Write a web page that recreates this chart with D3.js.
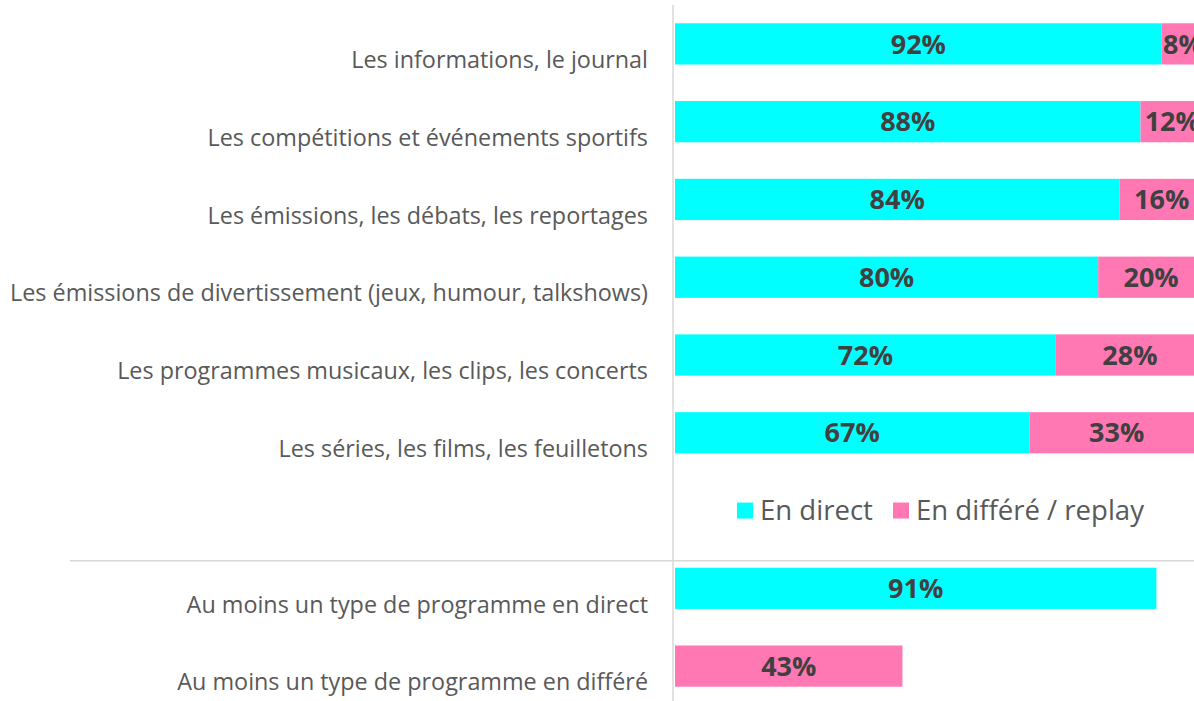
<html>
<head>
  <meta charset="utf-8">
  <script src="https://d3js.org/d3.v7.min.js"></script>
  <style>
    body { margin: 0; padding: 0; background: white; overflow: hidden; }
    svg { display: block; }
    text { font-family: "Open Sans", sans-serif; }
  </style>
</head>
<body>
  <svg width="1194" height="701"></svg>
  <script>
    const categories = [
      "Les informations, le journal",
      "Les compétitions et événements sportifs",
      "Les émissions, les débats, les reportages",
      "Les émissions de divertissement (jeux, humour, talkshows)",
      "Les programmes musicaux, les clips, les concerts",
      "Les séries, les films, les feuilletons"
    ];
    const enDirect = [92, 88, 84, 80, 72, 67];
    const enDiffere = [8, 12, 16, 20, 28, 33];

    const summaryCategories = [
      "Au moins un type de programme en direct",
      "Au moins un type de programme en différé"
    ];
    const summaryValues = [91, 43];
    const summarySeries = ["direct", "differe"];

    const seriesNames = ["En direct", "En différé / replay"];
    const colors = { direct: "#00ffff", differe: "#ff78b4" };

    const svg = d3.select("svg");
    const width = 1194, height = 701;

    const slots = categories.concat(["__legend"], summaryCategories);

    const y = d3.scaleBand()
      .domain(slots)
      .range([5, 705])
      .paddingInner(0.47)
      .paddingOuter(0.235);

    const x = d3.scaleLinear()
      .domain([0, 100])
      .range([675, 1204]);

    // axis line
    svg.append("line")
      .attr("x1", 673).attr("x2", 673)
      .attr("y1", 5).attr("y2", height)
      .attr("stroke", "#d9d9d9").attr("stroke-width", 1.5);

    // separator
    const sepY = y(summaryCategories[0]) - 7;
    svg.append("line")
      .attr("x1", 70).attr("x2", width)
      .attr("y1", sepY).attr("y2", sepY)
      .attr("stroke", "#d9d9d9").attr("stroke-width", 1.5);

    const rows = categories.map((c, i) => ({ cat: c, direct: enDirect[i], differe: enDiffere[i] }));

    const segs = [];
    rows.forEach(r => {
      segs.push({ cat: r.cat, key: "direct", x0: 0, x1: r.direct, v: r.direct });
      segs.push({ cat: r.cat, key: "differe", x0: r.direct, x1: r.direct + r.differe, v: r.differe });
    });
    summaryCategories.forEach((c, i) => {
      segs.push({ cat: c, key: summarySeries[i], x0: 0, x1: summaryValues[i], v: summaryValues[i] });
    });

    svg.selectAll("rect.bar")
      .data(segs)
      .enter().append("rect")
      .attr("class", "bar")
      .attr("x", d => x(d.x0))
      .attr("y", d => y(d.cat))
      .attr("width", d => x(d.x1) - x(d.x0))
      .attr("height", y.bandwidth())
      .attr("fill", d => colors[d.key]);

    svg.selectAll("text.val")
      .data(segs)
      .enter().append("text")
      .attr("class", "val")
      .attr("x", d => (x(d.x0) + x(d.x1)) / 2)
      .attr("y", d => y(d.cat) + y.bandwidth() / 2)
      .attr("dy", "0.36em")
      .attr("text-anchor", "middle")
      .attr("font-weight", "bold")
      .attr("font-size", 27)
      .attr("fill", "#404040")
      .text(d => d.v + "%");

    // category labels
    const labels = svg.selectAll("text.cat")
      .data(categories.concat(summaryCategories))
      .enter().append("text")
      .attr("class", "cat")
      .attr("x", 648)
      .attr("y", d => y(d) + y.bandwidth() / 2 + 16)
      .attr("dy", "0.35em")
      .attr("text-anchor", "end")
      .attr("font-size", 20)
      .attr("fill", "#595959")
      .text(d => d);

    // fit font so longest label spans like the reference
    const longest = d3.max(labels.nodes(), n => n.getComputedTextLength());
    const fs = 20 * 638 / longest;
    labels.attr("font-size", fs);

    // legend
    const ly = y("__legend") + y.bandwidth() / 2;
    const legend = [
      { name: seriesNames[0], key: "direct", x: 737 },
      { name: seriesNames[1], key: "differe", x: 893 }
    ];
    const lg = svg.selectAll("g.leg")
      .data(legend)
      .enter().append("g")
      .attr("class", "leg")
      .attr("transform", d => "translate(" + d.x + "," + ly + ")");
    lg.append("rect")
      .attr("x", 0).attr("y", -8)
      .attr("width", 16).attr("height", 16)
      .attr("fill", d => colors[d.key]);
    lg.append("text")
      .attr("x", 23)
      .attr("dy", "0.35em")
      .attr("font-size", fs * 1.18)
      .attr("fill", "#595959")
      .text(d => d.name);
  </script>
</body>
</html>
